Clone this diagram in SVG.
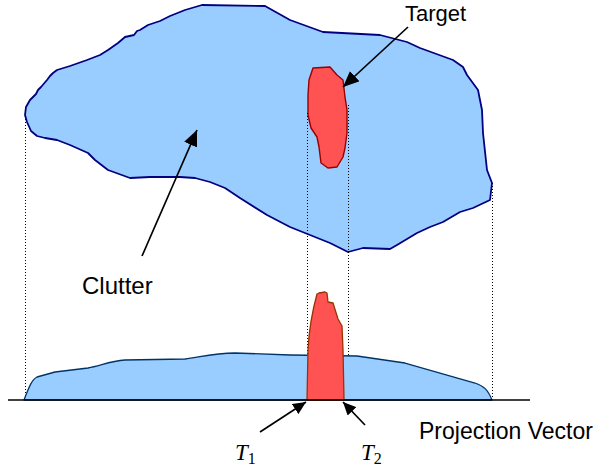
<svg xmlns="http://www.w3.org/2000/svg" width="599" height="468" viewBox="0 0 599 468">
<defs>
<style>
.lbl{font-family:"Liberation Sans",Arial,sans-serif;fill:#000}
.math{font-family:"Liberation Serif","Times New Roman",serif;font-style:italic;fill:#000}
.sub{font-family:"Liberation Serif","Times New Roman",serif;fill:#000}
.dot{stroke:#000;stroke-width:1;stroke-dasharray:1,2;fill:none;shape-rendering:crispEdges}
.arr{stroke:#000;stroke-width:1.7;fill:none}
</style>
<marker id="ah" markerUnits="userSpaceOnUse" markerWidth="17" markerHeight="15" refX="16" refY="7" orient="auto">
<path d="M0,0 L16,7 L0,14 Z" fill="#000"/>
</marker>
<marker id="ahs" markerUnits="userSpaceOnUse" markerWidth="14" markerHeight="12" refX="13" refY="6" orient="auto">
<path d="M0,0 L13,6 L0,12 Z" fill="#000"/>
</marker>
</defs>
<rect width="599" height="468" fill="#fff"/>
<g id="clutter">
<path d="M202,5 L265,6 L290,20 L323,32 L380,35 L407,42 L420,48 L453,60 L463,67 L467,75 L478,90 L482,110 L483,133 L487,170 L492,183 L490,200 L473,208 L460,212 L443,222 L430,227 L417,233 L397,245 L390,249 L363,248 L348,252 L330,243 L310,235 L290,227 L267,215 L240,198 L225,188 L210,182 L195,178 L180,177 L150,177 L130,178 L108,170 L95,160 L88,153 L70,145 L57,140 L45,138 L37,136 L31,131 L27,122 L25,115 L26,107 L30,100 L36,94 L38,90 L41,87 L47,80 L50,76 L53,73 L57,70 L70,66 L87,60 L100,55 L108,50 L118,43 L125,37 L134,35 L137,31 L140,30 L148,25 L160,21 L170,16 L185,10 Z" fill="#99CCFF" stroke="#000080" stroke-width="1.8" stroke-linejoin="round"/>
</g>
<g id="target">
<path d="M313,68 L330,67 L337,75 L343,80 L345,97 L347,110 L347,133 L345,148 L343,157 L337,167 L328,168 L321,163 L320,155 L319,147 L317,137 L311,128 L308,115 L308,95 L309,80 Z" fill="#FF5252" stroke="#990000" stroke-width="1.4" stroke-linejoin="round"/>
</g>
<g id="projection-lines">
<line class="dot" x1="25.5" y1="107" x2="25.5" y2="399"/>
<line class="dot" x1="307.5" y1="113" x2="307.5" y2="399"/>
<line class="dot" x1="348.5" y1="105" x2="348.5" y2="355"/>
<line class="dot" x1="492.5" y1="183" x2="492.5" y2="399"/>
</g>
<g id="clutter-projection">
<path d="M24,400 C28,390 31,380 37,377 L55,372 L88,368 C100,366 110,361 125,360 L185,359 C200,357 215,353 235,353 L290,355 L357,356 L405,363 L440,373 L475,383 C484,386 488,390 492,400 Z" fill="#99CCFF" stroke="#003366" stroke-width="1.3" stroke-linejoin="round"/>
</g>
<g id="target-projection">
<path d="M307,400 L308,350 C309,330 312,312 317,294 L319,293 L325,292 L327,293 L328,302 L333,303 L338,319 L342,326 L343,350 L344,400 Z" fill="#FF5252" stroke="#993300" stroke-width="1.3" stroke-linejoin="round"/>
</g>
<g id="axis">
<line x1="8" y1="400" x2="530" y2="400" stroke="#000" stroke-width="1.5"/>
</g>
<g id="connectors">
<line class="arr" x1="142" y1="256" x2="197" y2="130" marker-end="url(#ah)"/>
<line class="arr" x1="408" y1="27" x2="343" y2="87" marker-end="url(#ah)"/>
<line class="arr" x1="260" y1="432" x2="306" y2="402" marker-end="url(#ahs)"/>
<line class="arr" x1="365" y1="425" x2="343" y2="402" marker-end="url(#ahs)"/>
</g>
<g id="labels">
<text class="lbl" x="405" y="21" font-size="22">Target</text>
<text class="lbl" x="82" y="294" font-size="24">Clutter</text>
<text class="lbl" x="419" y="439" font-size="23">Projection Vector</text>
<text x="235" y="460"><tspan class="math" font-size="23">T</tspan><tspan class="sub" font-size="16" dy="4">1</tspan></text>
<text x="361" y="460"><tspan class="math" font-size="23">T</tspan><tspan class="sub" font-size="16" dy="4">2</tspan></text>
</g>
</svg>
